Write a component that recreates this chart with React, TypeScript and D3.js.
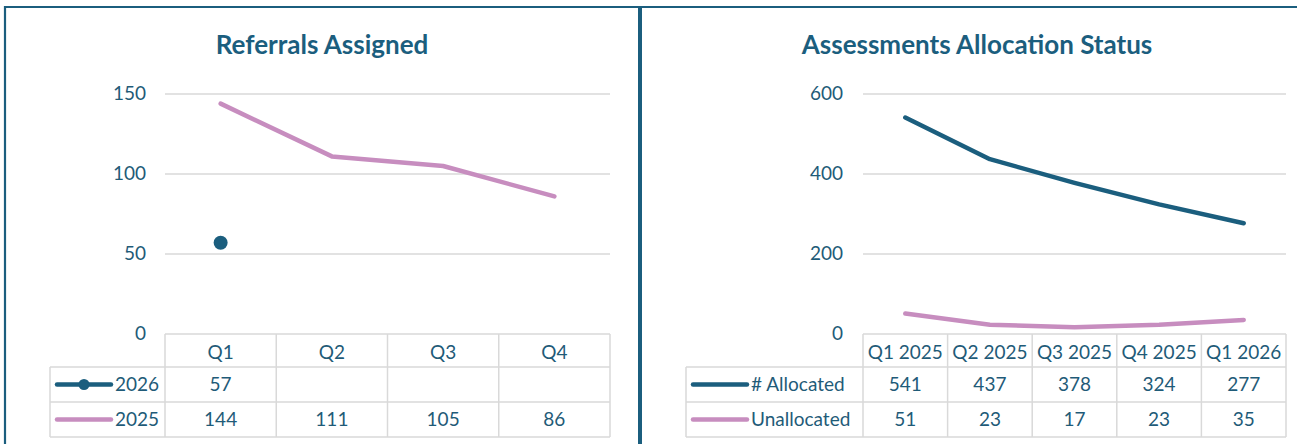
import React from "react";
import * as d3 from "d3";

// ---------- Data ----------
const LEFT_TITLE = "Referrals Assigned";
const LEFT_CATEGORIES = ["Q1", "Q2", "Q3", "Q4"];
const LEFT_2026: (number | null)[] = [57, null, null, null];
const LEFT_2025: (number | null)[] = [144, 111, 105, 86];
const LEFT_TICKS = [0, 50, 100, 150];

const RIGHT_TITLE = "Assessments Allocation Status";
const RIGHT_CATEGORIES = ["Q1 2025", "Q2 2025", "Q3 2025", "Q4 2025", "Q1 2026"];
const RIGHT_ALLOCATED: (number | null)[] = [541, 437, 378, 324, 277];
const RIGHT_UNALLOCATED: (number | null)[] = [51, 23, 17, 23, 35];
const RIGHT_TICKS = [0, 200, 400, 600];

// ---------- Style ----------
const BLUE = "#1b5e7e";
const PINK = "#c78dbf";
const GRID = "#d9d9d9";
const TEXT = "#1f5b78";
const FONT = "Lato, 'Open Sans', sans-serif";
const FS = 19;

type Series = { name: string; values: (number | null)[]; color: string; marker: boolean };

type PanelProps = {
  title: string;
  titleX: number;
  categories: string[];
  series: Series[];
  ticks: number[];
  plotLeft: number;
  plotRight: number;
  tableLeft: number;
  labelRight: number;
};

const PLOT_TOP = 94;
const PLOT_BOTTOM = 334;
const ROW_TOPS = [334, 367, 402, 437];

function Panel(p: PanelProps) {
  const y = d3
    .scaleLinear()
    .domain([0, d3.max(p.ticks) as number])
    .range([PLOT_BOTTOM, PLOT_TOP]);
  const x = d3
    .scaleBand<string>()
    .domain(p.categories)
    .range([p.plotLeft, p.plotRight])
    .padding(0);
  const cx = (c: string) => (x(c) as number) + x.bandwidth() / 2;

  const line = d3
    .line<number | null>()
    .defined((d) => d !== null)
    .x((_, i) => cx(p.categories[i]))
    .y((d) => y(d as number));

  const gridColor = GRID;
  return (
    <g>
      <text
        x={p.titleX}
        y={54}
        textAnchor="middle"
        fontFamily={FONT}
        fontWeight={700}
        fontSize={26}
        fill={BLUE}
      >
        {p.title}
      </text>
      {/* gridlines */}
      {p.ticks.map((t) =>
        t === 0 ? null : (
          <line
            key={"g" + t}
            x1={p.plotLeft}
            x2={p.plotRight}
            y1={y(t)}
            y2={y(t)}
            stroke={gridColor}
            strokeWidth={1.5}
          />
        )
      )}
      {/* tick labels */}
      {p.ticks.map((t) => (
        <text
          key={"t" + t}
          x={p.labelRight}
          y={y(t)}
          dy="0.33em"
          textAnchor="end"
          fontFamily={FONT}
          fontSize={FS}
          fill={TEXT}
        >
          {t}
        </text>
      ))}
      {/* table borders */}
      <g stroke={gridColor} strokeWidth={1.5} fill="none">
        <line x1={p.plotLeft} x2={p.plotRight} y1={ROW_TOPS[0]} y2={ROW_TOPS[0]} />
        {ROW_TOPS.slice(1).map((r) => (
          <line key={"r" + r} x1={p.tableLeft} x2={p.plotRight} y1={r} y2={r} />
        ))}
        <line x1={p.tableLeft} x2={p.tableLeft} y1={ROW_TOPS[1]} y2={ROW_TOPS[3]} />
        {p.categories.map((c) => (
          <line
            key={"v" + c}
            x1={x(c) as number}
            x2={x(c) as number}
            y1={ROW_TOPS[0]}
            y2={ROW_TOPS[3]}
          />
        ))}
        <line x1={p.plotRight} x2={p.plotRight} y1={ROW_TOPS[0]} y2={ROW_TOPS[3]} />
      </g>
      {/* header labels */}
      {p.categories.map((c) => (
        <text
          key={"h" + c}
          x={cx(c)}
          y={(ROW_TOPS[0] + ROW_TOPS[1]) / 2 + 2}
          dy="0.33em"
          textAnchor="middle"
          fontFamily={FONT}
          fontSize={FS}
          fill={TEXT}
        >
          {c}
        </text>
      ))}
      {/* series rows */}
      {p.series.map((s, si) => {
        const rowMid = (ROW_TOPS[si + 1] + ROW_TOPS[si + 2]) / 2;
        const lx1 = p.tableLeft + 7;
        const lx2 = p.tableLeft + 61;
        return (
          <g key={"s" + s.name}>
            <line
              x1={lx1}
              x2={lx2}
              y1={rowMid}
              y2={rowMid}
              stroke={s.color}
              strokeWidth={4.5}
              strokeLinecap="round"
            />
            {s.marker && <circle cx={(lx1 + lx2) / 2} cy={rowMid} r={5.5} fill={s.color} />}
            <text
              x={p.tableLeft + 65}
              y={rowMid}
              dy="0.33em"
              fontFamily={FONT}
              fontSize={FS}
              fill={TEXT}
            >
              {s.name}
            </text>
            {s.values.map((v, i) =>
              v === null ? null : (
                <text
                  key={"v" + i}
                  x={cx(p.categories[i])}
                  y={rowMid}
                  dy="0.33em"
                  textAnchor="middle"
                  fontFamily={FONT}
                  fontSize={FS}
                  fill={TEXT}
                >
                  {v}
                </text>
              )
            )}
          </g>
        );
      })}
      {/* lines */}
      {[...p.series].reverse().map((s) => (
        <g key={"l" + s.name}>
          <path
            d={line(s.values) || ""}
            fill="none"
            stroke={s.color}
            strokeWidth={4.5}
            strokeLinecap="round"
            strokeLinejoin="round"
          />
          {s.marker &&
            s.values.map((v, i) =>
              v === null ? null : (
                <circle key={"m" + i} cx={cx(p.categories[i])} cy={y(v)} r={7} fill={s.color} />
              )
            )}
        </g>
      ))}
    </g>
  );
}

export default function App() {
  return (
    <div style={{ position: "absolute", left: 0, top: 0, width: 1297, height: 444 }}>
      <svg width={1297} height={444} style={{ display: "block" }}>
        <rect x={0} y={0} width={1297} height={444} fill="#ffffff" />
        <Panel
          title={LEFT_TITLE}
          titleX={322}
          categories={LEFT_CATEGORIES}
          series={[
            { name: "2026", values: LEFT_2026, color: BLUE, marker: true },
            { name: "2025", values: LEFT_2025, color: PINK, marker: false },
          ]}
          ticks={LEFT_TICKS}
          plotLeft={165}
          plotRight={610}
          tableLeft={50}
          labelRight={146}
        />
        <Panel
          title={RIGHT_TITLE}
          titleX={977}
          categories={RIGHT_CATEGORIES}
          series={[
            { name: "# Allocated", values: RIGHT_ALLOCATED, color: BLUE, marker: false },
            { name: "Unallocated", values: RIGHT_UNALLOCATED, color: PINK, marker: false },
          ]}
          ticks={RIGHT_TICKS}
          plotLeft={863}
          plotRight={1286}
          tableLeft={686}
          labelRight={843}
        />
        {/* frame */}
        <g stroke={BLUE} fill="none">
          <line x1={4} x2={1297} y1={7} y2={7} strokeWidth={2.2} />
          <line x1={5} x2={5} y1={6} y2={444} strokeWidth={2.2} />
          <line x1={640} x2={640} y1={6} y2={444} strokeWidth={4} />
        </g>
      </svg>
    </div>
  );
}
